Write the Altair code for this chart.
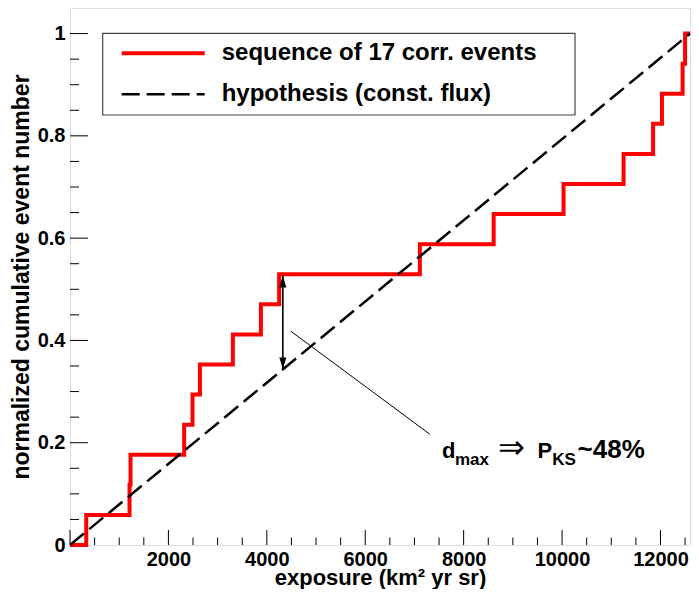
import altair as alt
import pandas as pd

FONT = "Liberation Sans"

# ---- data ----
event_exposure = [330, 1210, 1230, 2320, 2490, 2640, 3310, 3880, 4250,
                  7110, 8610, 10030, 11250, 11850, 12030, 12450, 12500]
cum_fraction = [0.0588, 0.1176, 0.1765, 0.2353, 0.2941, 0.3529, 0.4118, 0.4706, 0.5294,
                0.5882, 0.6471, 0.7059, 0.7647, 0.8235, 0.8824, 0.9412, 1.0]
total_exposure = 12600
hyp_x = [0, 12600]
hyp_y = [0, 1]

x_label_values = [2000, 4000, 6000, 8000, 10000, 12000]
y_label_values = [0, 0.2, 0.4, 0.6, 0.8, 1.0]
x_major = [0, 2000, 4000, 6000, 8000, 10000, 12000]
x_minor = [500, 1000, 1500, 2500, 3000, 3500, 4500, 5000, 5500, 6500, 7000, 7500,
           8500, 9000, 9500, 10500, 11000, 11500, 12500]
y_major = [0.2, 0.4, 0.6, 0.8, 1.0]
y_minor = [0.05, 0.1, 0.15, 0.25, 0.3, 0.35, 0.45, 0.5, 0.55, 0.65, 0.7, 0.75,
           0.85, 0.9, 0.95]

arrow_x = [4325]
arrow_top = [0.527]
arrow_bottom = [0.3435]
pointer_x = [4488]
pointer_y = [0.418]
pointer_x2 = [7313]
pointer_y2 = [0.2166]
annot_x = [7560]
annot_y = [0.17]

S1 = "sequence of 17 corr. events"
S2 = "hypothesis (const. flux)"
series_names = [S1, S2]
series_colors = ["#ff0000", "#000000"]
series_dash = [[1, 0], [18, 7]]
series_width = [4, 2.5]

# ---- tables ----
step_df = pd.DataFrame({
    "x": [0] + event_exposure + [total_exposure],
    "y": [0] + cum_fraction + [1.0],
    "series": S1,
})
hyp_df = pd.DataFrame({"x": hyp_x, "y": hyp_y, "series": S2})
xmaj_df = pd.DataFrame({"x": x_major})
xmin_df = pd.DataFrame({"x": x_minor})
ymaj_df = pd.DataFrame({"y": y_major})
ymin_df = pd.DataFrame({"y": y_minor})
arrow_df = pd.DataFrame({"x": arrow_x, "y": arrow_top, "y2": arrow_bottom})
pointer_df = pd.DataFrame({"x": pointer_x, "y": pointer_y, "x2": pointer_x2, "y2": pointer_y2})
annot_df = pd.DataFrame({"x": annot_x, "y": annot_y})
box_df = pd.DataFrame({"k": [0]})

W, H = 620, 537

x_scale = alt.Scale(domain=[0, 12600], nice=False, zero=False)
y_scale = alt.Scale(domain=[0, 1.05], nice=False, zero=False)

x_axis = alt.Axis(values=x_label_values, format="d", title="exposure (km² yr sr)", ticks=False,
                  domain=False, grid=False, labelFontSize=20, labelFontWeight="bold",
                  labelFont=FONT, labelColor="black", labelPadding=4, labelFlush=False,
                  labelOverlap=False, titleFontSize=22, titleFontWeight="bold",
                  titleFont=FONT, titleColor="black", titlePadding=-2)
y_axis = alt.Axis(values=y_label_values, format=".1~f",
                  title="normalized cumulative event number", ticks=False,
                  domain=False, grid=False, labelFontSize=20, labelFontWeight="bold",
                  labelFont=FONT, labelColor="black", labelPadding=5, labelFlush=False,
                  labelOverlap=False, titleFontSize=23, titleFontWeight="bold",
                  titleFont=FONT, titleColor="black", titlePadding=4)

legend = alt.Legend(
    title=None, orient="none", legendX=32.7, legendY=25.3,
    symbolType="stroke", symbolSize=6889, clipHeight=24, rowPadding=17,
    padding=8, labelFontSize=24, labelFont=FONT, labelFontWeight="bold",
    labelColor="black", labelOffset=15, symbolOffset=9, labelLimit=1000,
)

color_enc = alt.Color("series:N", scale=alt.Scale(domain=series_names, range=series_colors), legend=legend)
dash_enc = alt.StrokeDash("series:N", scale=alt.Scale(domain=series_names, range=series_dash), legend=legend)
width_enc = alt.StrokeWidth("series:N", scale=alt.Scale(domain=series_names, range=series_width), legend=legend)

steps = alt.Chart(step_df).mark_line(interpolate="step-after", strokeJoin="miter").encode(
    x=alt.X("x:Q", scale=x_scale, axis=x_axis),
    y=alt.Y("y:Q", scale=y_scale, axis=y_axis),
    color=color_enc, strokeDash=dash_enc, strokeWidth=width_enc,
)
hyp = alt.Chart(hyp_df).mark_line().encode(
    x=alt.X("x:Q", scale=x_scale),
    y=alt.Y("y:Q", scale=y_scale),
    color=color_enc, strokeDash=dash_enc, strokeWidth=width_enc,
)

# legend frame (decoration behind the legend entries)
legend_box = alt.Chart(box_df).mark_rect(
    fill="white", stroke="#444", strokeWidth=1.2
).encode(x=alt.value(32.7), x2=alt.value(505), y=alt.value(25.3), y2=alt.value(107))

xmaj = alt.Chart(xmaj_df).mark_rule(color="black", strokeWidth=1).encode(
    x=alt.X("x:Q", scale=x_scale), y=alt.value(H), y2=alt.value(H - 15))
xmin = alt.Chart(xmin_df).mark_rule(color="black", strokeWidth=1).encode(
    x=alt.X("x:Q", scale=x_scale), y=alt.value(H), y2=alt.value(H - 7.5))
ymaj = alt.Chart(ymaj_df).mark_rule(color="black", strokeWidth=1).encode(
    y=alt.Y("y:Q", scale=y_scale), x=alt.value(0), x2=alt.value(18))
ymin = alt.Chart(ymin_df).mark_rule(color="black", strokeWidth=1).encode(
    y=alt.Y("y:Q", scale=y_scale), x=alt.value(0), x2=alt.value(9))

arrow_line = alt.Chart(arrow_df).mark_rule(color="black", strokeWidth=1.6).encode(
    x=alt.X("x:Q", scale=x_scale), y=alt.Y("y:Q", scale=y_scale), y2="y2:Q")
arrow_up = alt.Chart(arrow_df).mark_point(
    shape="M0,0L-0.5,1.7L0.5,1.7Z", filled=True, size=196, color="black", opacity=1
).encode(x=alt.X("x:Q", scale=x_scale), y=alt.Y("y:Q", scale=y_scale))
arrow_down = alt.Chart(arrow_df).mark_point(
    shape="M0,0L-0.5,-1.7L0.5,-1.7Z", filled=True, size=196, color="black", opacity=1
).encode(x=alt.X("x:Q", scale=x_scale), y=alt.Y("y2:Q", scale=y_scale))

pointer = alt.Chart(pointer_df).mark_rule(color="black", strokeWidth=1).encode(
    x=alt.X("x:Q", scale=x_scale), y=alt.Y("y:Q", scale=y_scale), x2="x2:Q", y2="y2:Q")


def piece(txt, dx, dy, size, weight="bold", font=FONT):
    return alt.Chart(annot_df).mark_text(
        text=txt, align="left", baseline="alphabetic", dx=dx, dy=dy,
        fontSize=size, fontWeight=weight, font=font, color="black",
    ).encode(x=alt.X("x:Q", scale=x_scale), y=alt.Y("y:Q", scale=y_scale))


annot = [
    piece("d", 0, 0, 22),
    piece("max", 13, 7, 17),
    piece("\u21d2", 56, 0, 32, "normal", "DejaVu Sans"),
    piece("P", 95.6, 0, 22),
    piece("KS", 110.3, 7, 17),
    piece("~48%", 135.6, 0, 26),
]

chart = alt.layer(
    xmaj, xmin, ymaj, ymin, steps, hyp, legend_box, arrow_line, arrow_up, arrow_down,
    pointer, *annot
).properties(
    width=W, height=H,
    autosize=alt.AutoSizeParams(type="none"),
    padding={"left": 62, "top": 0, "right": 1, "bottom": 44},
).configure_view(stroke="black", strokeWidth=1.2).configure(font=FONT)

chart.save("out.html", embed_options={"renderer": "svg", "actions": False})
